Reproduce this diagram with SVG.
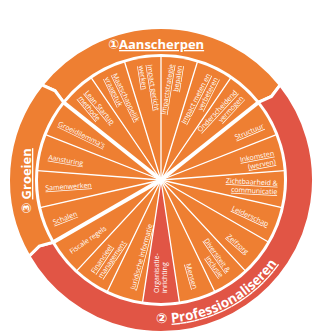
<svg xmlns="http://www.w3.org/2000/svg" width="321" height="333" viewBox="0 0 321 333">
<style>
.o{fill:#EE7F32}
.r{fill:#E15545}
.ring{stroke:#fff;stroke-width:3;stroke-linejoin:miter}
.t{font-family:"Open Sans","Liberation Sans",sans-serif;font-size:7px;fill:#fff}
.u{text-decoration:underline}
.h{font-family:"Open Sans","Liberation Sans","DejaVu Sans",sans-serif;font-size:13px;font-weight:700;fill:#fff}
.d{stroke:#fff;stroke-width:1.3;stroke-linecap:round}
.dk{stroke:#fff;stroke-width:4}
</style>
<defs>
<path id="arcP" d="M156.01,322.91 A143,143 0 0 0 301.83,204.83" fill="none"/>
</defs>
<rect width="321" height="333" fill="#fff"/>

<g id="ring-aanscherpen">
<path class="o ring" d="M41.78,84.92 A152.5,152.5 0 0 1 280.22,84.92 L271.45,96.44 L258.33,102.37 A124.5,124.5 0 0 0 63.67,102.37 L55.03,90.82 Z"/>
<text class="h" x="108" y="49">①<tspan class="u">Aanscherpen</tspan></text>
</g>
<g id="ring-professionaliseren">
<path class="r ring" d="M280.22,84.92 A152.5,152.5 0 1 1 28.93,256.25 L39.29,246.09 L53.18,242.25 A124.5,124.5 0 1 0 258.33,102.37 L271.45,96.44 Z"/>
<text class="h" style="font-size:13.5px"><textPath href="#arcP">②<tspan class="u" dx="4">Professionaliseren</tspan></textPath></text>
</g>
<g id="ring-groeien">
<path class="o ring" d="M28.93,256.25 A152.5,152.5 0 0 1 41.78,84.92 L55.03,90.82 L63.67,102.37 A124.5,124.5 0 0 0 53.18,242.25 L39.29,246.09 Z"/>
<text class="h" transform="translate(31,181) rotate(-90)" text-anchor="middle">③ <tspan class="u">Groeien</tspan></text>
</g>

<g id="n-lean">
<path class="o" d="M161,180 L64.84,103.31 A123,123 0 0 1 91.70,78.38 Z"/>
<text class="t u" transform="translate(82.63,94.47) rotate(50)"><tspan x="0" y="-2.4">Lean Startup</tspan><tspan x="0" y="6.2">methode</tspan></text>
</g>
<g id="n-maatschappelijk">
<path class="o" d="M161,180 L91.70,78.38 A123,123 0 0 1 124.75,62.46 Z"/>
<text class="t u" transform="translate(110.15,75.74) rotate(64)"><tspan x="0" y="-2.4">Maatschappelijk</tspan><tspan x="0" y="6.2">vraagstuk</tspan></text>
</g>
<g id="n-impactgericht">
<path class="o" d="M161,180 L124.75,62.46 A123,123 0 0 1 161,57 Z"/>
<text class="t u" transform="translate(144.86,65.13) rotate(81)"><tspan x="0" y="-2.4">Impact gericht</tspan><tspan x="0" y="6.2">werken</tspan></text>
</g>
<g id="n-impactstrategie">
<path class="o" d="M161,180 L161,57 A123,123 0 0 1 197.25,62.46 Z"/>
<text class="t u" transform="translate(176.14,64.99) rotate(-81)" text-anchor="end"><tspan x="0" y="-2.4">Impactstrategie</tspan><tspan x="0" y="6.2">bepalen</tspan></text>
</g>
<g id="n-impactmeten">
<path class="o" d="M161,180 L197.25,62.46 A123,123 0 0 1 230.30,78.38 Z"/>
<text class="t u" transform="translate(212.76,76.19) rotate(-63)" text-anchor="end"><tspan x="0" y="-2.4">Impact meten en</tspan><tspan x="0" y="6.2">verbeteren</tspan></text>
</g>
<g id="n-onderscheidend">
<path class="o" d="M161,180 L230.30,78.38 A123,123 0 0 1 257.16,103.31 Z"/>
<text class="t u" transform="translate(239.37,94.47) rotate(-47)" text-anchor="end"><tspan x="0" y="-2.4">Onderscheidend</tspan><tspan x="0" y="6.2">vermogen</tspan></text>
</g>
<g id="n-structuur">
<path class="o" d="M161,180 L257.16,103.31 A123,123 0 0 1 275.50,135.07 Z"/>
<text class="t u" transform="translate(263.42,125.54) rotate(-23)" text-anchor="end" y="2.5">Structuur</text>
</g>
<g id="n-inkomsten">
<path class="o" d="M161,180 L275.50,135.07 A123,123 0 0 1 283.66,170.80 Z"/>
<text class="t u" transform="translate(274.87,157.87) rotate(-11)" text-anchor="end"><tspan x="0" y="-2.4">Inkomsten</tspan><tspan x="0" y="6.2">(werven)</tspan></text>
</g>
<g id="n-zichtbaarheid">
<path class="o" d="M161,180 L283.66,170.80 A123,123 0 0 1 280.91,207.37 Z"/>
<text class="t u" transform="translate(277.5,188.09) rotate(3)" text-anchor="end"><tspan x="0" y="-2.4">Zichtbaarheid &amp;</tspan><tspan x="0" y="6.2">communicatie</tspan></text>
</g>
<g id="n-leiderschap">
<path class="o" d="M161,180 L280.91,207.37 A123,123 0 0 1 267.52,241.5 Z"/>
<text class="t u" transform="translate(268.17,224.39) rotate(25)" text-anchor="end" y="2.5">Leiderschap</text>
</g>
<g id="n-zelfzorg">
<path class="o" d="M161,180 L267.52,241.5 A123,123 0 0 1 244.66,270.16 Z"/>
<text class="t u" transform="translate(247.56,252.64) rotate(41)" text-anchor="end" y="2.5">Zelfzorg</text>
</g>
<g id="n-diversiteit">
<path class="o" d="M161,180 L244.66,270.16 A123,123 0 0 1 214.37,290.82 Z"/>
<text class="t u" transform="translate(224.75,274.51) rotate(55)" text-anchor="end"><tspan x="0" y="-2.4">Diversiteit &amp;</tspan><tspan x="0" y="6.2">inclusie</tspan></text>
</g>
<g id="n-mensen">
<path class="o" d="M161,180 L214.37,290.82 A123,123 0 0 1 179.33,301.62 Z"/>
<text class="t u" transform="translate(195.28,288.72) rotate(74)" text-anchor="end" y="2.5">Mensen</text>
</g>
<g id="n-organisatie">
<path class="r" d="M161,180 L179.33,301.62 A123,123 0 0 1 142.67,301.62 Z"/>
<text class="t" transform="translate(161,293) rotate(-90)"><tspan x="0" y="-2.4">Organisatie-</tspan><tspan x="0" y="6.2">inrichting</tspan></text>
</g>
<g id="n-juridische">
<path class="o" d="M161,180 L142.67,301.62 A123,123 0 0 1 107.63,290.82 Z"/>
<text class="t u" transform="translate(132.71,289.40) rotate(-75)" y="2.5">Juridische informatie</text>
</g>
<g id="n-financieel">
<path class="o" d="M161,180 L107.63,290.82 A123,123 0 0 1 77.34,270.16 Z"/>
<text class="t u" transform="translate(96.69,275.34) rotate(-56)"><tspan x="0" y="-2.4">Financieel</tspan><tspan x="0" y="6.2">management</tspan></text>
</g>
<g id="n-fiscale">
<path class="o" d="M161,180 L77.34,270.16 A123,123 0 0 1 54.48,241.5 Z"/>
<text class="t" transform="translate(70.22,252.21) rotate(-35)" y="2.5">Fiscale regels</text>
</g>
<g id="n-schalen">
<path class="o" d="M161,180 L54.48,241.5 A123,123 0 0 1 41.09,207.37 Z"/>
<text class="t u" transform="translate(53.07,222.51) rotate(-21)" y="2.5">Schalen</text>
</g>
<g id="n-samenwerken">
<path class="o" d="M161,180 L41.09,207.37 A123,123 0 0 1 38.34,170.80 Z"/>
<text class="t u" transform="translate(45.28,188.09) rotate(-4)" y="2.5">Samenwerken</text>
</g>
<g id="n-aansturing">
<path class="o" d="M161,180 L38.34,170.80 A123,123 0 0 1 46.50,135.07 Z"/>
<text class="t u" transform="translate(48.31,157.07) rotate(10)" y="2.5">Aansturing</text>
</g>
<g id="n-groeidilemmas">
<path class="o" d="M161,180 L46.50,135.07 A123,123 0 0 1 64.84,103.31 Z"/>
<text class="t u" transform="translate(58.67,123.28) rotate(26)" y="2.5">Groeidilemma's</text>
</g>

<g id="connectors">
<line class="d" x1="161" y1="180" x2="91.14" y2="77.55"/>
<line class="d" x1="161" y1="180" x2="124.46" y2="61.51"/>
<line class="d" x1="161" y1="180" x2="161" y2="56"/>
<line class="d" x1="161" y1="180" x2="197.54" y2="61.51"/>
<line class="d" x1="161" y1="180" x2="230.86" y2="77.55"/>
<line class="d" x1="161" y1="180" x2="276.43" y2="134.70"/>
<line class="d" x1="161" y1="180" x2="284.65" y2="170.72"/>
<line class="d" x1="161" y1="180" x2="281.89" y2="207.59"/>
<line class="d" x1="161" y1="180" x2="268.39" y2="242"/>
<line class="d" x1="161" y1="180" x2="245.34" y2="270.89"/>
<line class="d" x1="161" y1="180" x2="214.80" y2="291.72"/>
<line class="d" x1="161" y1="180" x2="179.48" y2="302.61"/>
<line class="d" x1="161" y1="180" x2="142.52" y2="302.61"/>
<line class="d" x1="161" y1="180" x2="107.20" y2="291.72"/>
<line class="d" x1="161" y1="180" x2="76.66" y2="270.89"/>
<line class="d" x1="161" y1="180" x2="40.11" y2="207.59"/>
<line class="d" x1="161" y1="180" x2="37.35" y2="170.72"/>
<line class="d" x1="161" y1="180" x2="45.57" y2="134.70"/>
<line class="dk" x1="161" y1="180" x2="64.06" y2="102.69"/>
<line class="dk" x1="161" y1="180" x2="257.94" y2="102.69"/>
<line class="dk" x1="161" y1="180" x2="53.61" y2="242"/>
<circle cx="161" cy="180" r="2.5" fill="#fff"/>
</g>
</svg>
